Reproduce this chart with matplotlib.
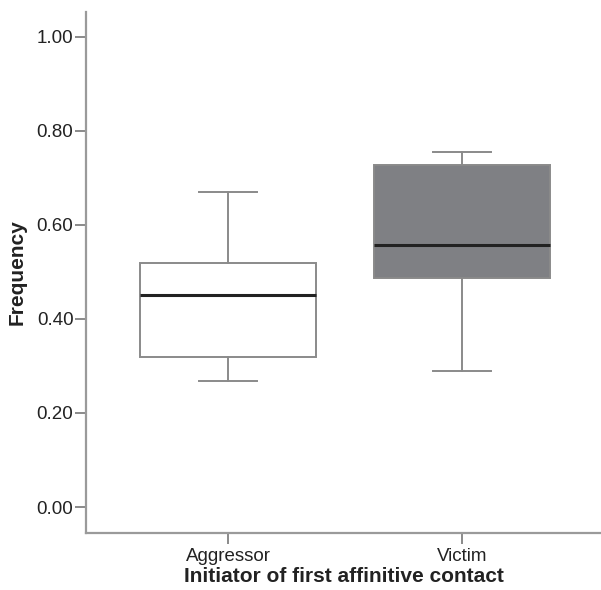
import matplotlib
matplotlib.use("Agg")
import matplotlib.pyplot as plt

plt.rcParams['font.family'] = ['Liberation Sans', 'DejaVu Sans']

# box statistics
groups = ["Aggressor", "Victim"]
whislo = [0.268, 0.289]
q1 = [0.319, 0.487]
med = [0.451, 0.557]
q3 = [0.519, 0.728]
whishi = [0.670, 0.755]
fills = ["white", "#7f8084"]

yticks = [0.0, 0.2, 0.4, 0.6, 0.8, 1.0]

stats = []
for i in range(len(groups)):
    stats.append(dict(label=groups[i], whislo=whislo[i], q1=q1[i], med=med[i],
                      q3=q3[i], whishi=whishi[i], fliers=[]))

fig = plt.figure(figsize=(6.01, 5.90), dpi=100)
ax = fig.add_axes([0.143, 0.0966, 0.857, 0.883])

edge = "#8a8a8a"
bp = ax.bxp(stats, positions=[1, 2], widths=0.748, patch_artist=True,
            showfliers=False,
            boxprops=dict(edgecolor=edge, linewidth=1.4),
            whiskerprops=dict(color=edge, linewidth=1.4),
            capprops=dict(color=edge, linewidth=1.4),
            medianprops=dict(color="#222222", linewidth=2.2))
for patch, c in zip(bp["boxes"], fills):
    patch.set_facecolor(c)
for cap in bp["caps"]:
    x = cap.get_xdata()
    mid = (x[0] + x[1]) / 2
    cap.set_xdata([mid - 0.125, mid + 0.125])

ax.set_xlim(0.393, 2.594)
ax.set_ylim(-0.0553, 1.053)
ax.set_yticks(yticks)
ax.set_yticklabels(["%.2f" % v for v in yticks])

for s in ["top", "right"]:
    ax.spines[s].set_visible(False)
for s in ["left", "bottom"]:
    ax.spines[s].set_color("#9a9a9a")
    ax.spines[s].set_linewidth(1.6)

ax.tick_params(axis="both", colors="#8a8a8a", width=1.4, length=8,
               labelcolor="#222222", labelsize=13.5)
ax.tick_params(axis="y", pad=1)
ax.tick_params(axis="x", pad=3)

ax.set_ylabel("Frequency", fontsize=15, fontweight="bold", color="#222222", labelpad=7)
ax.set_xlabel("Initiator of first affinitive contact", fontsize=15,
              fontweight="bold", color="#222222", labelpad=1)

fig.savefig("out.png", dpi=100)
